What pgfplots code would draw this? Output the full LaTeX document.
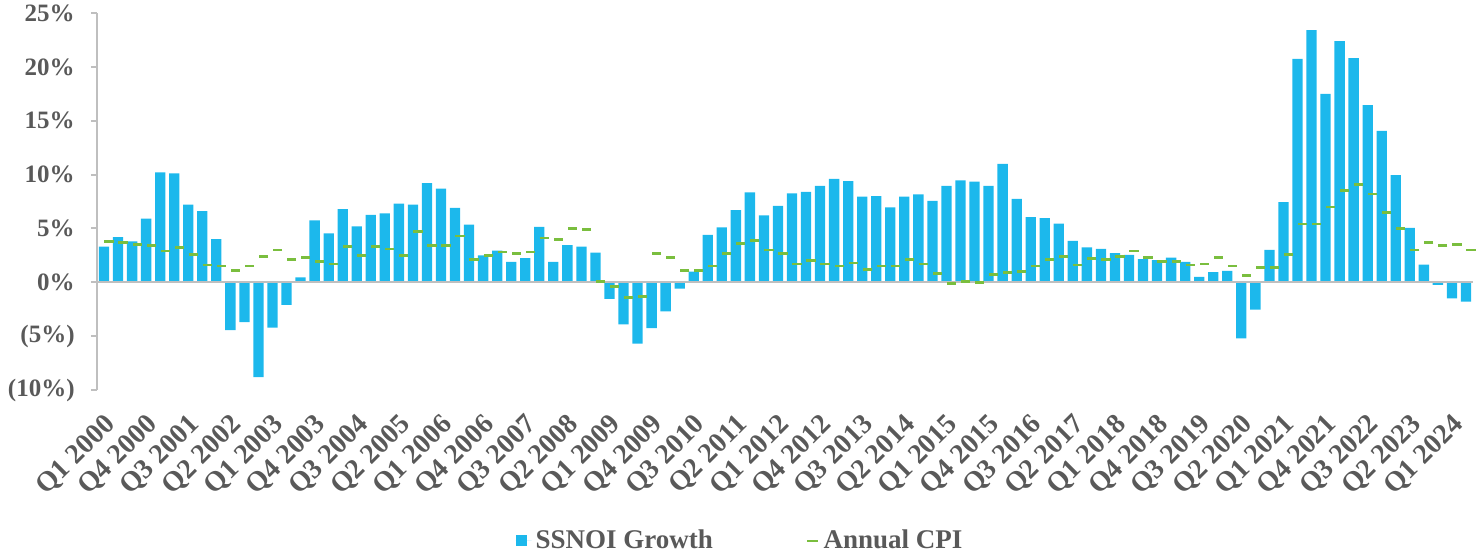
\documentclass[border=0pt]{standalone}
\usepackage{fontspec}
\setmainfont{Liberation Serif}
\usepackage{pgfplots}
\pgfplotsset{compat=1.18}
\usepackage{pgfplotstable}
\definecolor{barblue}{RGB}{28,184,236}
\definecolor{cpigreen}{RGB}{122,190,62}
\definecolor{axisgray}{RGB}{191,191,191}
\definecolor{labelgray}{RGB}{89,89,89}

\pgfplotstableread{
x y
0 3.3
1 4.2
2 3.8
3 5.9
4 10.2
5 10.1
6 7.2
7 6.6
8 4.0
9 -4.45
10 -3.7
11 -8.8
12 -4.2
13 -2.1
14 0.45
15 5.75
16 4.55
17 6.8
18 5.2
19 6.25
20 6.4
21 7.3
22 7.2
23 9.2
24 8.7
25 6.9
26 5.35
27 2.5
28 2.95
29 1.9
30 2.25
31 5.15
32 1.9
33 3.45
34 3.3
35 2.75
36 -1.55
37 -3.9
38 -5.7
39 -4.25
40 -2.7
41 -0.6
42 1.0
43 4.4
44 5.1
45 6.7
46 8.35
47 6.2
48 7.1
49 8.25
50 8.4
51 8.95
52 9.6
53 9.4
54 7.95
55 8.0
56 6.95
57 7.95
58 8.15
59 7.55
60 8.95
61 9.45
62 9.35
63 8.95
64 11.0
65 7.75
66 6.05
67 5.95
68 5.45
69 3.85
70 3.25
71 3.1
72 2.7
73 2.55
74 2.15
75 2.05
76 2.3
77 1.9
78 0.5
79 0.95
80 1.05
81 -5.2
82 -2.55
83 3.0
84 7.45
85 20.75
86 23.4
87 17.5
88 22.4
89 20.8
90 16.45
91 14.05
92 9.95
93 5.05
94 1.65
95 -0.25
96 -1.5
97 -1.8
}\ssnoi

\pgfplotstableread{
x y
0 3.8
1 3.7
2 3.5
3 3.4
4 2.9
5 3.2
6 2.6
7 1.6
8 1.5
9 1.1
10 1.5
11 2.4
12 3.0
13 2.1
14 2.3
15 1.9
16 1.7
17 3.3
18 2.5
19 3.3
20 3.1
21 2.5
22 4.7
23 3.4
24 3.4
25 4.3
26 2.1
27 2.5
28 2.8
29 2.7
30 2.8
31 4.1
32 4.0
33 5.0
34 4.9
35 0.1
36 -0.4
37 -1.4
38 -1.3
39 2.7
40 2.3
41 1.1
42 1.1
43 1.5
44 2.7
45 3.6
46 3.9
47 3.0
48 2.7
49 1.7
50 2.0
51 1.7
52 1.5
53 1.8
54 1.2
55 1.5
56 1.5
57 2.1
58 1.7
59 0.8
60 -0.1
61 0.1
62 0.0
63 0.7
64 0.9
65 1.0
66 1.5
67 2.1
68 2.4
69 1.6
70 2.2
71 2.1
72 2.4
73 2.9
74 2.3
75 1.9
76 1.9
77 1.6
78 1.7
79 2.3
80 1.5
81 0.6
82 1.4
83 1.4
84 2.6
85 5.4
86 5.4
87 7.0
88 8.5
89 9.1
90 8.2
91 6.5
92 5.0
93 3.0
94 3.7
95 3.4
96 3.5
97 3.0
}\cpi

\begin{document}
\begin{tikzpicture}
\begin{axis}[
  at={(0,0)}, anchor=south west,
  scale only axis, width=688pt, height=188.5pt,
  xmin=-0.5, xmax=97.5, ymin=-10, ymax=25,
  axis x line*=bottom, axis y line*=left,
  x axis line style={draw=none},
  y axis line style={axisgray, line width=1pt, -},
  ytick={-10,-5,...,25},
  yticklabels={(10\%),(5\%),0\%,5\%,10\%,15\%,20\%,25\%},
  ytick style={axisgray, line width=1pt},
  tick align=outside, major tick length=3pt,
  xtick={0,3,...,96},
  xticklabels={Q1 2000, Q4 2000, Q3 2001, Q2 2002, Q1 2003, Q4 2003, Q3 2004, Q2 2005, Q1 2006, Q4 2006, Q3 2007, Q2 2008, Q1 2009, Q4 2009, Q3 2010, Q2 2011, Q1 2012, Q4 2012, Q3 2013, Q2 2014, Q1 2015, Q4 2015, Q3 2016, Q2 2017, Q1 2018, Q4 2018, Q3 2019, Q2 2020, Q1 2021, Q4 2021, Q3 2022, Q2 2023, Q1 2024},
  xtick style={draw=none},
  yticklabel style={font=\fontsize{12.5}{14}\selectfont\bfseries, text=labelgray, anchor=east, inner sep=0pt, xshift=-8pt},
  xticklabel style={font=\fontsize{14}{16}\selectfont\bfseries, text=labelgray, xshift=-0.5pt, yshift=-8pt, rotate=45, anchor=north east, inner sep=0pt},
  clip=false,
  legend columns=2,
  legend style={draw=none, fill=none, at={(0.468,0)}, anchor=center, yshift=-75.5pt,
    font=\fontsize{13.5}{15}\selectfont\bfseries, text=labelgray,
    /tikz/every odd column/.append style={column sep=0pt},
    /tikz/every even column/.append style={column sep=44.5pt}},
]
\addplot[ybar, bar width=5.15pt, fill=barblue, draw=none,
  legend image code/.code={\fill[barblue] (0pt,-2.75pt) rectangle (5.5pt,2.75pt); \path (0pt,0pt) -- (8pt,0pt);}]
  table[x=x, y=y] {\ssnoi};
\addlegendentry{SSNOI Growth}
\addplot[only marks, mark=-, mark size=2.3pt, cpigreen, line width=1.35pt,
  mark options={xshift=2.5pt},
  legend image code/.code={\draw[cpigreen, line width=1.2pt] (0.5pt,0pt) -- (3.5pt,0pt); \path (0pt,0pt) -- (5.5pt,0pt);}]
  table[x=x, y=y] {\cpi};
\addlegendentry{Annual CPI}
\draw[axisgray, line width=1pt] (axis cs:-0.5,0) -- (axis cs:97.5,0);
\end{axis}
\pgfresetboundingbox
\path (-48.5pt,-85pt) rectangle (689.5pt,195pt);
\end{tikzpicture}
\end{document}
